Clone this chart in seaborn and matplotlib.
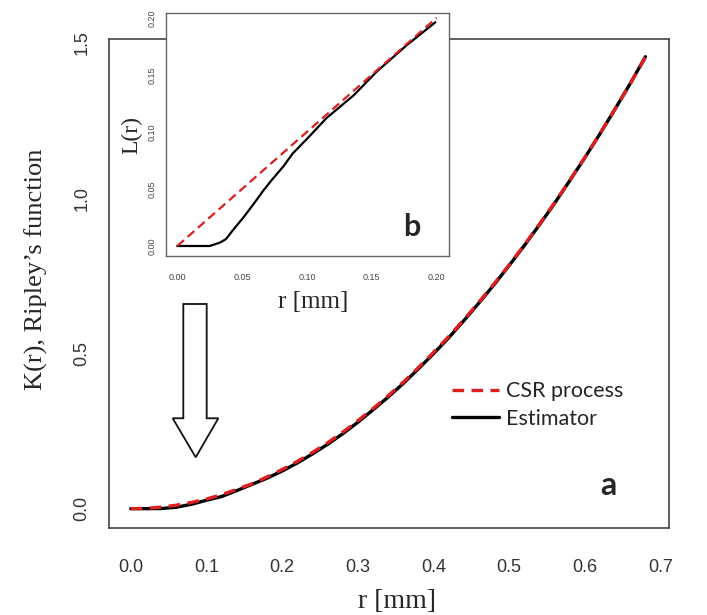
import numpy as np
import pandas as pd
import matplotlib
matplotlib.use("Agg")
import matplotlib.pyplot as plt
from matplotlib.patches import Polygon
from matplotlib.lines import Line2D
import seaborn as sns

# ---- main panel: Ripley's K(r) ----
r_main = [0.00, 0.02, 0.04, 0.06, 0.08, 0.10, 0.12, 0.14, 0.16, 0.18,
          0.20, 0.22, 0.24, 0.26, 0.28, 0.30, 0.32, 0.34, 0.36, 0.38,
          0.40, 0.42, 0.44, 0.46, 0.48, 0.50, 0.52, 0.54, 0.56, 0.58,
          0.60, 0.62, 0.64, 0.66, 0.68]
k_csr = [0.000, 0.001, 0.005, 0.011, 0.020, 0.031, 0.045, 0.062, 0.080, 0.102,
         0.126, 0.152, 0.181, 0.212, 0.246, 0.283, 0.322, 0.363, 0.407, 0.454,
         0.503, 0.554, 0.608, 0.665, 0.724, 0.785, 0.849, 0.916, 0.985, 1.057,
         1.131, 1.208, 1.287, 1.368, 1.453]
k_est = [0.000, 0.000, 0.0003, 0.0045, 0.014, 0.027, 0.039, 0.058, 0.078, 0.098,
         0.121, 0.147, 0.176, 0.207, 0.241, 0.278, 0.318, 0.359, 0.403, 0.450,
         0.499, 0.550, 0.605, 0.662, 0.721, 0.783, 0.847, 0.914, 0.983, 1.056,
         1.130, 1.207, 1.287, 1.369, 1.455]

# ---- inset panel: L(r) ----
r_inset_csr = [0.00, 0.20]
l_csr = [0.00, 0.20]
r_inset_est = [0.000, 0.025, 0.033, 0.0375, 0.043, 0.051, 0.059, 0.066, 0.073,
               0.082, 0.089, 0.101, 0.115, 0.136, 0.154, 0.177, 0.199]
l_est = [0.000, 0.000, 0.003, 0.006, 0.014, 0.025, 0.037, 0.048, 0.058,
         0.070, 0.081, 0.095, 0.112, 0.132, 0.153, 0.176, 0.196]

main_xticks = [0.0, 0.1, 0.2, 0.3, 0.4, 0.5, 0.6, 0.7]
main_yticks = [0.0, 0.5, 1.0, 1.5]
inset_ticks = [0.00, 0.05, 0.10, 0.15, 0.20]

legend_labels = ["CSR process", "Estimator"]

sns.set_style("white")
plt.rcParams["font.family"] = ["Liberation Sans", "DejaVu Sans"]

RED = "#dc2020"
AXCOL = "#444444"
SERIF = ["Liberation Serif", "DejaVu Serif"]

fig = plt.figure(figsize=(7.07, 6.15), dpi=100)
ax = fig.add_axes([0.1546, 0.1420, 0.7912, 0.7941])

df_main = pd.DataFrame({"r": r_main, "csr": k_csr, "est": k_est})
sns.lineplot(data=df_main, x="r", y="est", ax=ax, color="black", lw=2.4,
             estimator=None, sort=False, zorder=3)
sns.lineplot(data=df_main, x="r", y="csr", ax=ax, color=RED, lw=2.4,
             estimator=None, sort=False, zorder=4,
             linestyle=(0, (3.5, 2.2)))

ax.set_xlim(-0.0283, 0.7107)
ax.set_ylim(-0.0612, 1.511)
ax.set_xticks(main_xticks)
ax.set_xticklabels([f"{v:.1f}" for v in main_xticks], fontsize=13, color="#333333")
ax.set_yticks(main_yticks)
ax.set_yticklabels([f"{v:.1f}" for v in main_yticks], fontsize=13, color="#333333",
                   rotation=90, va="center")
ax.tick_params(axis="both", direction="out", length=7.5, width=1.0, color=AXCOL)
ax.tick_params(axis="x", pad=15)
ax.tick_params(axis="y", pad=6)
for s in ax.spines.values():
    s.set_color(AXCOL)
    s.set_linewidth(1.2)

ax.set_xlabel("r [mm]", fontsize=20, family=SERIF, va="center")
ax.xaxis.set_label_coords(0.514, -0.152)
ax.set_ylabel("K(r), Ripley\u2019s function", fontsize=19, family=SERIF, va="center")
ax.yaxis.set_label_coords(-0.131, 0.53)

handles = [Line2D([], [], color=RED, lw=2.4, linestyle=(0, (3.5, 2.2))),
           Line2D([], [], color="black", lw=2.4)]
ax.legend(handles, legend_labels, loc="upper left", bbox_to_anchor=(0.6126, 0.30),
          frameon=False, borderpad=0, borderaxespad=0, handlelength=2.2,
          handletextpad=0.3, labelspacing=0.35,
          prop={"family": ["Lato", "DejaVu Sans"], "size": 15.5})

ax.text(0.8915, 0.0854, "a", transform=ax.transAxes, ha="center", va="center",
        fontsize=23, fontweight="bold", family=["Lato", "DejaVu Sans"])

# hollow down-pointing arrow towards the small-r region
arrow_xy = [(0.1323, 0.458), (0.1741, 0.458), (0.1741, 0.224), (0.1949, 0.224),
            (0.1545, 0.1441), (0.1133, 0.224), (0.1323, 0.224)]
ax.add_patch(Polygon(arrow_xy, closed=True, transform=ax.transAxes,
                     facecolor="white", edgecolor="#111111", lw=1.3, zorder=5))

# ---- inset ----
axi = fig.add_axes([0.2348, 0.5837, 0.4007, 0.3956])
axi.set_facecolor("white")
df_ie = pd.DataFrame({"r": r_inset_est, "L": l_est})
df_ic = pd.DataFrame({"r": r_inset_csr, "L": l_csr})
sns.lineplot(data=df_ie, x="r", y="L", ax=axi, color="black", lw=1.6,
             estimator=None, sort=False, zorder=3)
sns.lineplot(data=df_ic, x="r", y="L", ax=axi, color=RED, lw=1.6,
             estimator=None, sort=False, zorder=4, linestyle=(0, (4, 2.2)))
axi.set_xlim(-0.0087, 0.2098)
axi.set_ylim(-0.0088, 0.2044)
axi.set_xticks(inset_ticks)
axi.set_xticklabels([f"{v:.2f}" for v in inset_ticks], fontsize=6.5, color="#444444")
axi.set_yticks(inset_ticks)
axi.set_yticklabels([f"{v:.2f}" for v in inset_ticks], fontsize=6.5, color="#444444",
                    rotation=90, va="center")
axi.tick_params(axis="both", direction="out", length=5, width=0.9, color="#666666")
axi.tick_params(axis="x", pad=7)
axi.tick_params(axis="y", pad=2)
for s in axi.spines.values():
    s.set_color("#666666")
    s.set_linewidth(1.0)
axi.set_xlabel("r [mm]", fontsize=18, family=SERIF, va="center")
axi.xaxis.set_label_coords(0.52, -0.188)
axi.set_ylabel("L(r)", fontsize=17, family=SERIF, va="center")
axi.yaxis.set_label_coords(-0.121, 0.497)
axi.text(0.868, 0.119, "b", transform=axi.transAxes, ha="center", va="center",
         fontsize=22, fontweight="bold", family=["Lato", "DejaVu Sans"])

fig.savefig("out.png", dpi=100)
